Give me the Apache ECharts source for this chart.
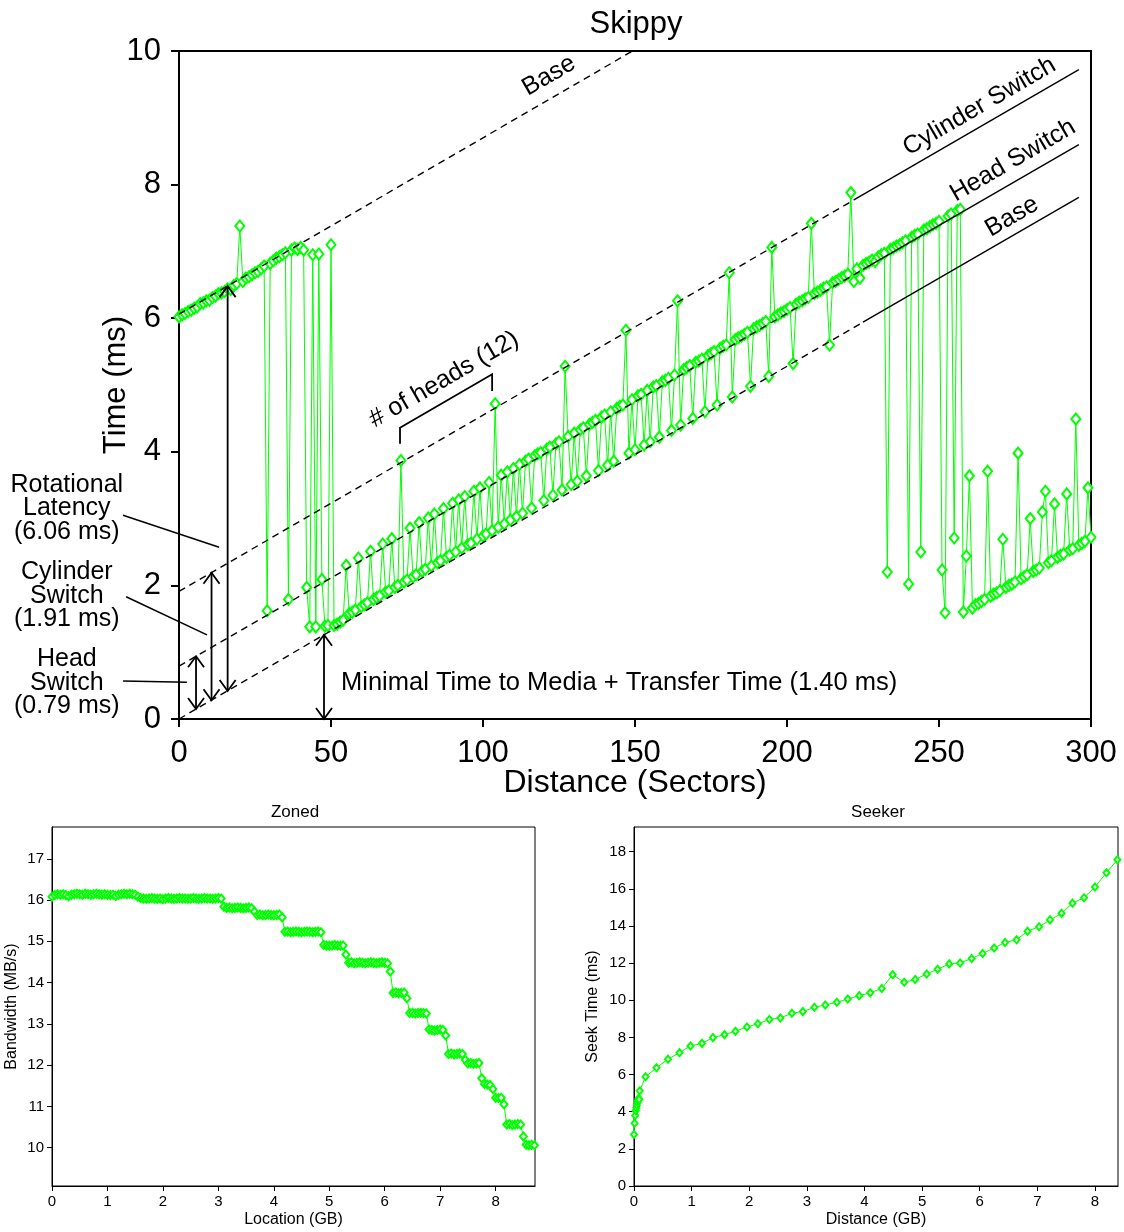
<!DOCTYPE html>
<html><head><meta charset="utf-8">
<script src="https://cdn.jsdelivr.net/npm/echarts@6/dist/echarts.min.js"></script>
<style>html,body{margin:0;padding:0;background:#fff}#c{width:1124px;height:1232px}</style>
</head><body><div id="c"></div>
<script>
// ---------- Skippy: time (ms) for each sector distance 0..300 ----------
const skippyTime = [
6.02,6.05,6.07,6.10,6.12,6.15,6.17,6.22,6.23,6.26,
6.27,6.31,6.33,6.37,6.38,6.40,6.44,6.43,6.49,6.52,
7.38,6.55,6.60,6.62,6.65,6.68,6.70,6.74,6.78,1.62,
6.82,6.86,6.90,6.92,6.95,6.98,1.79,7.02,7.05,7.03,
7.06,7.02,1.97,1.38,6.95,1.38,6.96,2.09,1.39,1.40,
7.10,1.40,1.42,1.45,1.48,2.30,1.58,1.60,1.63,2.41,
1.68,1.71,1.74,2.51,1.79,1.82,1.84,2.62,1.90,1.92,
2.70,1.97,2.00,3.87,2.05,2.08,2.86,2.13,2.16,2.94,
2.21,2.24,3.01,2.29,3.07,2.34,2.37,3.15,2.42,2.45,
3.23,2.50,3.28,2.56,3.33,2.61,2.63,3.41,2.69,3.46,
2.74,2.77,3.54,2.82,4.72,2.87,3.65,2.92,3.70,2.98,
3.75,3.03,3.81,3.08,3.86,3.89,3.16,3.94,3.97,3.99,
3.27,4.04,4.07,3.35,4.12,4.15,3.43,5.28,4.23,3.51,
4.28,3.56,4.33,4.36,3.64,4.41,4.44,4.47,3.72,4.52,
4.55,3.80,4.60,3.86,4.65,4.68,4.70,5.82,3.98,4.78,
4.03,4.84,4.86,4.10,4.92,4.15,4.97,4.99,4.22,5.05,
5.07,5.10,4.32,5.15,6.26,4.40,5.23,5.26,5.29,4.50,
5.34,5.36,5.39,4.60,5.44,5.47,5.50,4.70,5.55,5.58,
5.60,6.68,4.82,5.68,5.71,5.73,5.76,5.79,4.98,5.84,
5.87,5.89,5.92,5.95,5.13,7.06,6.02,6.05,6.08,6.10,
6.13,6.16,5.32,6.21,6.24,6.26,6.29,6.31,7.42,6.37,
6.39,6.42,6.45,6.47,5.60,6.53,6.55,6.58,6.61,6.63,
6.66,7.88,6.55,6.74,6.60,6.79,6.82,6.84,6.87,6.85,
6.92,6.95,6.97,2.20,7.03,7.05,7.08,7.10,7.13,7.16,
2.02,7.21,7.24,7.26,2.50,7.32,7.34,7.37,7.40,7.42,
7.45,2.23,1.59,7.53,7.56,2.71,7.61,7.63,1.60,2.44,
3.64,1.66,1.71,1.73,1.76,1.79,3.71,1.84,1.87,1.89,
1.92,2.69,1.97,2.00,2.02,2.05,3.98,2.10,2.13,2.16,
3.00,2.21,2.23,2.26,3.10,3.41,2.34,2.37,3.22,2.42,
2.45,2.47,3.37,2.53,2.55,4.49,2.60,2.63,2.66,3.46,
2.72];
const skippyFirstSector = 0; // one sample per sector
const skippyXTicks = [0,50,100,150,200,250,300];
const skippyYTicks = [0,2,4,6,8,10];

// reference lines (sector, ms)
const upperBaseLine = [[0,6.06],[149.2,10]];
const cylinderLineDashed = [[0,1.91],[222,7.77]];
const cylinderLineSolid = [[222,7.77],[296,9.72]];
const headLineDashed = [[0,0.79],[225,6.73]];
const headLineSolid = [[225,6.73],[296,8.60]];
const lowerBaseDashed = [[0,0],[225,5.94]];
const lowerBaseSolid = [[225,5.94],[296,7.81]];

// ---------- Zoned: bandwidth (MB/s) vs location (GB), sampled every 0.05 GB ----------
const zonedStep = 0.05;
const zonedBandwidth = [
16.08,
16.12,16.14,16.13,16.14,16.12,16.09,16.13,16.14,16.15,16.14,16.13,16.15,16.14,16.13,16.14,
16.15,16.14,16.13,16.14,16.13,16.12,16.13,16.10,16.13,16.14,16.15,16.14,16.15,16.14,16.13,
16.08,
16.05,16.04,16.03,16.04,16.05,16.04,16.03,16.04,16.02,16.04,16.05,16.04,16.03,16.04,16.05,
16.04,16.04,16.03,16.04,16.05,16.04,16.03,16.04,16.05,16.04,16.04,16.03,16.04,16.05,16.04,
15.84,
15.81,15.82,15.80,15.81,15.82,15.81,15.80,15.81,15.82,15.80,
15.72,
15.64,15.65,15.63,15.64,15.65,15.64,15.63,15.64,15.65,
15.58,
15.23,15.24,15.22,15.23,15.24,15.23,15.22,15.23,15.24,15.23,15.22,15.23,15.24,15.22,
14.91,14.90,14.89,14.90,14.91,14.90,14.89,14.90,
14.68,
14.48,14.49,14.47,14.48,14.49,14.48,14.47,14.48,14.49,14.48,14.47,14.48,14.49,14.48,14.47,
14.27,
13.75,13.76,13.74,13.75,13.76,
13.62,
13.26,13.27,13.25,13.26,13.27,13.26,13.25,
12.86,12.85,12.84,12.85,12.86,12.85,
12.72,
12.27,12.28,12.26,12.27,12.28,12.27,
12.13,
12.04,12.05,12.03,12.04,12.05,
11.68,
11.54,11.53,11.52,
11.42,
11.21,11.20,11.21,
11.05,
10.56,10.57,10.55,10.56,10.57,10.56,
10.27,
10.07,10.06,10.07,10.06];
const zonedXTicks = [0,1,2,3,4,5,6,7,8];
const zonedYTicks = [10,11,12,13,14,15,16,17];

// ---------- Seeker: seek time (ms) vs distance (GB) ----------
const seekDistance = [0,0.01,0.02,0.03,0.04,0.05,0.06,0.07,0.08,0.09,0.1,
0.2,0.39,0.59,0.79,0.98,1.18,1.37,1.57,1.76,1.96,2.15,2.35,2.54,2.74,2.93,
3.13,3.32,3.52,3.71,3.91,4.1,4.3,4.49,4.69,4.88,5.08,5.27,5.47,5.66,5.86,
6.05,6.25,6.44,6.64,6.83,7.03,7.22,7.42,7.61,7.81,8.0,8.2,8.39];
const seekTime = [2.77,3.38,3.8,4.05,4.2,4.35,4.5,4.62,4.72,4.66,5.13,
5.88,6.37,6.83,7.18,7.54,7.68,7.99,8.15,8.33,8.56,8.74,8.97,9.05,9.3,9.39,
9.62,9.75,9.89,10.07,10.25,10.4,10.63,11.38,10.97,11.12,11.42,11.67,11.96,12.01,12.25,
12.52,12.82,13.11,13.26,13.72,13.96,14.33,14.68,15.23,15.52,16.1,16.87,17.57];
const seekXTicks = [0,1,2,3,4,5,6,7,8];
const seekYTicks = [0,2,4,6,8,10,12,14,16,18];

// ---------------------------------------------------------------
const FONT = 'Liberation Sans, Arial, Helvetica, sans-serif';
const GREEN = '#00ff00';
const skippyData = skippyTime.map((t, i) => [skippyFirstSector + i, t]);
const zonedData = zonedBandwidth.map((b, i) => [+(i * zonedStep).toFixed(2), b]);
const seekData = seekDistance.map((d, i) => [d, seekTime[i]]);

const chart = echarts.init(document.getElementById('c'), null, {renderer: 'canvas'});

function axisBase(fs, nfs, tickLen, lw) {
  return {
    axisLine: {onZero: false, lineStyle: {color: '#000', width: lw}},
    axisTick: {inside: false, length: tickLen, lineStyle: {color: '#000', width: lw}},
    axisLabel: {color: '#000', fontSize: fs, fontFamily: FONT},
    splitLine: {show: false},
    nameLocation: 'middle',
    nameTextStyle: {color: '#000', fontSize: nfs, fontFamily: FONT}
  };
}
function merge(a, b) { return Object.assign({}, a, b, {
  axisLabel: Object.assign({}, a.axisLabel, b.axisLabel || {}),
  axisTick: Object.assign({}, a.axisTick, b.axisTick || {}),
  nameTextStyle: Object.assign({}, a.nameTextStyle, b.nameTextStyle || {})
}); }

function refLine(data, dashed) {
  return {type: 'line', xAxisIndex: 0, yAxisIndex: 0, data: data, symbol: 'none', silent: true, z: 5,
    lineStyle: {color: '#000', width: 1.4, type: dashed ? [7, 5] : 'solid'}};
}

const option = {
  animation: false,
  backgroundColor: '#fff',
  title: [
    {text: 'Skippy', left: 631, top: 4, textAlign: 'center', textStyle: {fontSize: 31, fontWeight: 'normal', color: '#000', fontFamily: FONT}},
    {text: 'Zoned', left: 290, top: 799, textAlign: 'center', textStyle: {fontSize: 17, fontWeight: 'normal', color: '#000', fontFamily: FONT}},
    {text: 'Seeker', left: 873, top: 799, textAlign: 'center', textStyle: {fontSize: 17, fontWeight: 'normal', color: '#000', fontFamily: FONT}}
  ],
  grid: [
    {left: 179, top: 51, width: 912, height: 668, show: true, borderColor: '#000', borderWidth: 2, containLabel: false},
    {left: 52, top: 827, width: 483, height: 359, show: true, borderColor: '#000', borderWidth: 1, containLabel: false},
    {left: 634, top: 827, width: 484, height: 359, show: true, borderColor: '#000', borderWidth: 1, containLabel: false}
  ],
  xAxis: [
    merge(axisBase(31, 32, 8, 2), {gridIndex: 0, type: 'value', min: 0, max: 300, interval: 50,
      name: 'Distance (Sectors)', nameGap: 48, nameMoveOverlap: false, axisLabel: {margin: 19}}),
    merge(axisBase(15, 16, 5, 1), {gridIndex: 1, type: 'value', min: 0, max: 8.71,
      axisLabel: {margin: 8, customValues: zonedXTicks}, axisTick: {customValues: zonedXTicks},
      name: 'Location (GB)', nameGap: 26}),
    merge(axisBase(15, 16, 5, 1), {gridIndex: 2, type: 'value', min: 0, max: 8.4,
      axisLabel: {margin: 8, customValues: seekXTicks}, axisTick: {customValues: seekXTicks},
      name: 'Distance (GB)', nameGap: 26})
  ],
  yAxis: [
    merge(axisBase(31, 31, 8, 2), {gridIndex: 0, type: 'value', min: 0, max: 10, interval: 2,
      name: 'Time (ms)', nameGap: 47, nameMoveOverlap: false, axisLabel: {margin: 18}}),
    merge(axisBase(15, 16, 5, 1), {gridIndex: 1, type: 'value', min: 9.07, max: 17.77,
      axisLabel: {margin: 8, customValues: zonedYTicks}, axisTick: {customValues: zonedYTicks},
      name: 'Bandwidth (MB/s)', nameGap: 32}),
    merge(axisBase(15, 16, 5, 1), {gridIndex: 2, type: 'value', min: 0, max: 19.33,
      axisLabel: {margin: 8, customValues: seekYTicks}, axisTick: {customValues: seekYTicks},
      name: 'Seek Time (ms)', nameGap: 33})
  ],
  series: [
    {type: 'line', xAxisIndex: 0, yAxisIndex: 0, data: skippyData, symbol: 'emptyDiamond', symbolSize: [9, 11],
      itemStyle: {color: GREEN, borderWidth: 1}, lineStyle: {color: GREEN, width: 1}, z: 3},
    refLine(upperBaseLine, true),
    refLine(cylinderLineDashed, true), refLine(cylinderLineSolid, false),
    refLine(headLineDashed, true), refLine(headLineSolid, false),
    refLine(lowerBaseDashed, true), refLine(lowerBaseSolid, false),
    {type: 'line', xAxisIndex: 1, yAxisIndex: 1, data: zonedData, symbol: 'emptyDiamond', symbolSize: [7, 8],
      itemStyle: {color: GREEN, borderWidth: 1.2}, lineStyle: {color: GREEN, width: 1}},
    {type: 'line', xAxisIndex: 2, yAxisIndex: 2, data: seekData, symbol: 'emptyDiamond', symbolSize: [6, 7],
      itemStyle: {color: GREEN, borderWidth: 1}, lineStyle: {color: GREEN, width: 1}}
  ]
};
chart.setOption(option);

// ---------- annotations (positioned in data space of the Skippy grid) ----------
const P = (x, y) => chart.convertToPixel({gridIndex: 0}, [x, y]);
const a0 = P(0, 0), a1 = P(100, 2.64);
const ang = Math.atan2(a0[1] - a1[1], a1[0] - a0[0]);
const g = [];
function text(x, y, str, size, rot, lh) {
  const p = P(x, y);
  g.push({type: 'text', x: p[0], y: p[1], rotation: rot || 0, z: 100,
    style: {text: str, font: size + 'px ' + FONT, fill: '#000', align: 'center', verticalAlign: 'middle', lineHeight: lh || size}});
}
function pline(pts, w) {
  g.push({type: 'polyline', z: 100, shape: {points: pts.map(q => P(q[0], q[1]))},
    style: {stroke: '#000', lineWidth: w || 1.5, fill: null}});
}
function dblArrow(x, y0, y1) {
  const p0 = P(x, y0), p1 = P(x, y1);
  g.push({type: 'line', z: 100, shape: {x1: p0[0], y1: p0[1], x2: p1[0], y2: p1[1]}, style: {stroke: '#000', lineWidth: 1.8}});
  g.push({type: 'polyline', z: 100, shape: {points: [[p1[0] - 8, p1[1] + 11], [p1[0], p1[1]], [p1[0] + 8, p1[1] + 11]]}, style: {stroke: '#000', lineWidth: 1.8, fill: null}});
  g.push({type: 'polyline', z: 100, shape: {points: [[p0[0] - 8, p0[1] - 11], [p0[0], p0[1]], [p0[0] + 8, p0[1] - 11]]}, style: {stroke: '#000', lineWidth: 1.8, fill: null}});
}
text(121.7, 9.63, 'Base', 25, ang);
text(263.3, 9.17, 'Cylinder Switch', 25, ang);
text(274.3, 8.36, 'Head Switch', 25, ang);
text(274, 7.52, 'Base', 25, ang);
text(87.2, 5.08, '# of heads (12)', 25, ang);
pline([[72.7, 4.12], [72.7, 4.36], [103, 5.16], [103, 4.91]], 1.8);

dblArrow(16, 0.42, 6.48);
dblArrow(10.7, 0.28, 2.19);
dblArrow(5.6, 0.15, 0.94);
dblArrow(47.7, 0, 1.26);

// left labels with leader lines
text(-36.9, 3.15, 'Rotational\nLatency\n(6.06 ms)', 25, 0, 23.5);
text(-36.9, 1.84, 'Cylinder\nSwitch\n(1.91 ms)', 25, 0, 23.5);
text(-36.9, 0.54, 'Head\nSwitch\n(0.79 ms)', 25, 0, 23.5);
pline([[-18.4, 3.05], [13.2, 2.57]], 1.5);
pline([[-17.4, 1.83], [9.2, 1.26]], 1.5);
pline([[-18.4, 0.57], [2.6, 0.55]], 1.5);

const mp = P(53.3, 0.54);
g.push({type: 'text', x: mp[0], y: mp[1], z: 100,
  style: {text: 'Minimal Time to Media + Transfer Time (1.40 ms)', font: '25.5px ' + FONT, fill: '#000', align: 'left', verticalAlign: 'middle'}});

chart.setOption({graphic: g});
</script></body></html>
